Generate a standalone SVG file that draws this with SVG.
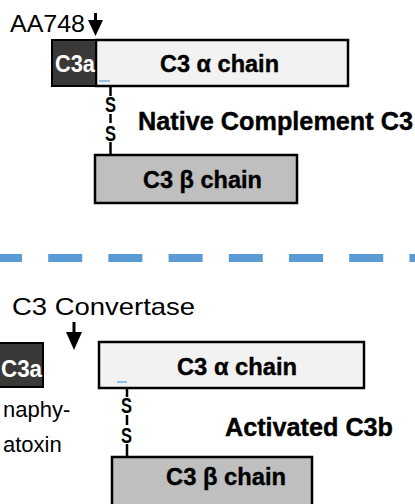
<svg xmlns="http://www.w3.org/2000/svg" width="415" height="504" viewBox="0 0 415 504">
<style>
.reg{font-family:"Liberation Sans",Arial,sans-serif;fill:#000}
.b{font-family:"Liberation Sans",Arial,sans-serif;font-weight:bold;fill:#000;stroke:#000;stroke-width:0.4}
.w{font-family:"Liberation Sans",Arial,sans-serif;font-weight:bold;fill:#fff}
.dark{fill:#3b3838;stroke:#000;stroke-width:2}
.alpha{fill:#f2f2f2;stroke:#000;stroke-width:2.5}
.beta{fill:#bfbfbf;stroke:#000;stroke-width:2.5}
.ss{stroke:#000;stroke-width:2.5;fill:none}
.tick{stroke:#5b9bd5;stroke-width:1.2}
.sl{font-family:"Liberation Sans",Arial,sans-serif;font-weight:bold;font-size:22px;fill:#000;text-anchor:middle}
</style>
<rect width="415" height="504" fill="#fff"/>
<g id="divider">
<line x1="-12" y1="258" x2="415" y2="258" stroke="#5b9bd5" stroke-width="8" stroke-dasharray="34 26.2"/>
</g>
<g id="connectors">
<line x1="95.5" y1="13" x2="95.5" y2="22" stroke="#000" stroke-width="3"/>
<polygon points="88,20 103,20 95.5,36" fill="#000"/>
<line x1="74" y1="322" x2="74" y2="334" stroke="#000" stroke-width="3"/>
<polygon points="66,332 82,332 74,350" fill="#000"/>
<path class="ss" d="M110.5,86 V96 M110.5,114 V123 M110.5,142 V155"/>
<text class="sl" x="110.5" y="112" textLength="11" lengthAdjust="spacingAndGlyphs">S</text>
<text class="sl" x="110.5" y="141" textLength="11" lengthAdjust="spacingAndGlyphs">S</text>
<path class="ss" d="M127,388 V397 M127,415 V425 M127,444 V457"/>
<text class="sl" x="126.5" y="413" textLength="11" lengthAdjust="spacingAndGlyphs">S</text>
<text class="sl" x="126.5" y="443" textLength="11" lengthAdjust="spacingAndGlyphs">S</text>
</g>
<g id="label-aa748"><text class="reg" x="10" y="32" font-size="24" textLength="75" lengthAdjust="spacingAndGlyphs">AA748</text></g>
<g id="alpha-top">
<rect class="alpha" x="96" y="40" width="252" height="46"/>
<line class="tick" x1="99" y1="81" x2="110" y2="81"/>
<text class="b" x="160" y="72" font-size="24" textLength="119" lengthAdjust="spacingAndGlyphs">C3 α chain</text>
</g>
<g id="c3a-top">
<rect class="dark" x="52" y="40" width="44" height="46"/>
<text class="w" x="55" y="72" font-size="23" textLength="40" lengthAdjust="spacingAndGlyphs">C3a</text>
</g>
<g id="beta-top">
<rect class="beta" x="95" y="155" width="202" height="48"/>
<text class="b" x="143" y="188" font-size="23.5" textLength="119" lengthAdjust="spacingAndGlyphs">C3 β chain</text>
</g>
<g id="label-native"><text class="b" x="138" y="130" font-size="25" textLength="275" lengthAdjust="spacingAndGlyphs">Native Complement C3</text></g>
<g id="label-convertase"><text class="reg" x="12" y="315" font-size="24" textLength="183" lengthAdjust="spacingAndGlyphs">C3 Convertase</text></g>
<g id="c3a-bottom">
<rect class="dark" x="-2" y="343" width="45" height="44"/>
<text class="w" x="1" y="377" font-size="23" textLength="41" lengthAdjust="spacingAndGlyphs">C3a</text>
</g>
<g id="label-anaphylatoxin">
<text class="reg" x="3" y="417" font-size="22">naphy-</text>
<text class="reg" x="3" y="452" font-size="22">atoxin</text>
</g>
<g id="alpha-bottom">
<rect class="alpha" x="99" y="342" width="265" height="46"/>
<line class="tick" x1="117" y1="382" x2="127" y2="382"/>
<text class="b" x="177" y="375" font-size="24" textLength="120" lengthAdjust="spacingAndGlyphs">C3 α chain</text>
</g>
<g id="label-activated"><text class="b" x="225" y="436" font-size="25" textLength="168" lengthAdjust="spacingAndGlyphs">Activated C3b</text></g>
<g id="beta-bottom">
<rect class="beta" x="112" y="457" width="200" height="50"/>
<text class="b" x="166" y="485" font-size="23.5" textLength="120" lengthAdjust="spacingAndGlyphs">C3 β chain</text>
</g>
</svg>
